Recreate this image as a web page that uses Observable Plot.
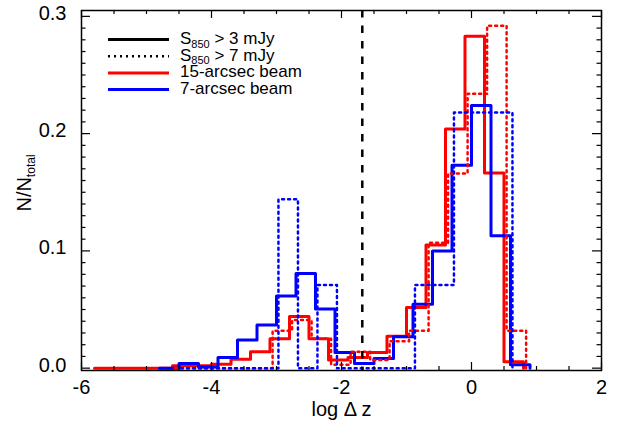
<!DOCTYPE html>
<html><head><meta charset="utf-8">
<script src="https://cdn.jsdelivr.net/npm/d3@7"></script>
<script src="https://cdn.jsdelivr.net/npm/@observablehq/plot@0.6"></script>
<style>
html,body{margin:0;padding:0;background:#fff;}
#chart{position:relative;width:617px;height:430px;font-family:"Liberation Sans",Arial,sans-serif;}
#chart svg{position:absolute;left:0;top:0;}
</style></head><body><div id="chart"></div>
<script>
// ---- data: bin edges and fractions N/Ntotal ----
const redSolidEdges = [-5.8,-5.5,-5.2,-4.9,-4.6,-4.3,-4.0,-3.7,-3.4,-3.1,-2.8,-2.5,-2.2,-1.9,-1.6,-1.3,-1.0,-0.7,-0.4,-0.1,0.2,0.5,0.8];
const redSolidValues = [0,0,0,0,0.002,0.002,0.0034,0.0077,0.014,0.025,0.044,0.025,0.007,0.009,0.0134,0.0273,0.0517,0.105,0.204,0.283,0.1665,0.0054];

const blueSolidEdges = [-4.8,-4.5,-4.2,-3.9,-3.6,-3.3,-3.0,-2.7,-2.4,-2.1,-1.8,-1.5,-1.2,-0.9,-0.6,-0.3,0.0,0.3,0.6,0.9];
const blueSolidValues = [0,0.004,0.001,0.009,0.024,0.0367,0.0615,0.0807,0.0505,0.0134,0.004,0.0083,0.0267,0.0546,0.100,0.173,0.224,0.113,0.003];

const redDottedEdges = [-4.56,-4.26,-3.96,-3.66,-3.36,-3.06,-2.76,-2.46,-2.16,-1.86,-1.56,-1.26,-0.96,-0.66,-0.36,-0.06,0.24,0.54,0.84];
const redDottedValues = [0,0,0,0,0,0.032,0.041,0.025,0.003,0.014,0.007,0.023,0.032,0.107,0.166,0.234,0.292,0.032];

const blueDottedEdges = [-4.47,-4.17,-3.87,-3.57,-3.27,-2.97,-2.67,-2.37,-2.07,-1.77,-1.47,-1.17,-0.87,-0.57,-0.27,0.03,0.33,0.63];
const blueDottedValues = [0,0,0,0,0,0.144,0,0.071,0,0,0,0,0.071,0.071,0.218,0.218,0.218];

const cutLine = [-1.68];

const xMajor = [-6,-4,-2,0,2];
const xMinor = [-5.5,-5,-4.5,-3.5,-3,-2.5,-1.5,-1,-0.5,0.5,1,1.5];
const yMajor = [0,0.1,0.2,0.3];
const yMinor = d3.range(1,30).filter(i => i % 10 !== 0).map(i => i / 100);
const xTitle = "log Δ z";

const legendText = [["S","850"," > 3 mJy"],["S","850"," > 7 mJy"],["15-arcsec beam"],["7-arcsec beam"]];
const legendColor = ["black","black","red","blue"];
const legendDash = [null,"2,4",null,null];

// ---- build step outlines ----
function steps(edges, values){
  const pts = values.map((v,i) => ({x: edges[i], y: v}));
  pts.push({x: edges[edges.length-1], y: 0});
  return pts;
}

const W = 617, H = 430, mL = 81, mR = 16, mT = 10, mB = 60;
const fw = W - mL - mR, fh = H - mT - mB;
const font = '"Liberation Sans",Arial,sans-serif';
const dots = "2,4";

const plot = Plot.plot({
  width: W, height: H,
  marginLeft: mL, marginRight: mR, marginTop: mT, marginBottom: mB,
  style: {fontFamily: font, background: "white", color: "black"},
  x: {domain: [-6, 2], axis: null},
  y: {domain: [-0.002, 0.305], axis: null},
  marks: [
    Plot.line(steps(redSolidEdges, redSolidValues), {x:"x", y:"y", curve:"step-after", stroke:"#ff0000", strokeWidth:3}),
    Plot.line(steps(blueSolidEdges, blueSolidValues), {x:"x", y:"y", curve:"step-after", stroke:"#0000ff", strokeWidth:3}),
    Plot.line(steps(redDottedEdges, redDottedValues), {x:"x", y:"y", curve:"step-after", stroke:"#ff0000", strokeWidth:2.5, strokeDasharray:dots}),
    Plot.line(steps(blueDottedEdges, blueDottedValues), {x:"x", y:"y", curve:"step-after", stroke:"#0000ff", strokeWidth:2.5, strokeDasharray:dots}),
    Plot.ruleX(cutLine, {x: d => d, stroke:"black", strokeWidth:2.5, strokeDasharray:"7.5,8"}),
    // inward ticks, bottom & top
    Plot.tickX(xMajor, {x: d => d, insetTop: fh - 8, stroke:"black", strokeWidth:1.2}),
    Plot.tickX(xMajor, {x: d => d, insetBottom: fh - 8, stroke:"black", strokeWidth:1.2}),
    Plot.tickX(xMinor, {x: d => d, insetTop: fh - 4, stroke:"black", strokeWidth:1.2}),
    Plot.tickX(xMinor, {x: d => d, insetBottom: fh - 4, stroke:"black", strokeWidth:1.2}),
    // inward ticks, left & right
    Plot.tickY(yMajor, {y: d => d, insetRight: fw - 9, stroke:"black", strokeWidth:1.2}),
    Plot.tickY(yMajor, {y: d => d, insetLeft: fw - 9, stroke:"black", strokeWidth:1.2}),
    Plot.tickY(yMinor, {y: d => d, insetRight: fw - 4.5, stroke:"black", strokeWidth:1.2}),
    Plot.tickY(yMinor, {y: d => d, insetLeft: fw - 4.5, stroke:"black", strokeWidth:1.2}),
    Plot.frame({stroke:"black", strokeWidth:1.5}),
    // tick labels
    Plot.text(xMajor, {x: d => d, frameAnchor:"bottom", dy:17, lineAnchor:"middle", fontSize:20, fill:"black", text: d => String(d)}),
    Plot.text(yMajor, {y: d => d, frameAnchor:"left", dx:-15, dy:-3, textAnchor:"end", lineAnchor:"middle", fontSize:20, fill:"black", text: d => d.toFixed(1)}),
    Plot.text([xTitle], {frameAnchor:"bottom", dy:39, lineAnchor:"middle", fontSize:20, fill:"black", text: d => d})
  ]
});
const chart = document.getElementById("chart");
chart.appendChild(plot);

// ---- overlay: legend and y-axis title with subscripts ----
const ov = d3.select(chart).append("svg").attr("width", W).attr("height", H)
  .style("font-family", font).style("pointer-events","none");
const ly0 = 39.5, lstep = 16.7;
legendText.forEach((parts, i) => {
  const y = ly0 + i * lstep;
  ov.append("line").attr("x1",108).attr("x2",169).attr("y1",y).attr("y2",y)
    .attr("stroke", legendColor[i]).attr("stroke-width", legendDash[i] ? 2.5 : 3)
    .attr("stroke-dasharray", legendDash[i]);
  const t = ov.append("text").attr("x",180).attr("y",y+4.5).attr("font-size",17).attr("fill","black");
  if (parts.length === 1) t.text(parts[0]);
  else {
    t.append("tspan").text(parts[0]);
    t.append("tspan").attr("font-size",11).attr("dy",3.5).text(parts[1]);
    t.append("tspan").attr("dy",-3.5).text(parts[2]);
  }
});
const yt = ov.append("text").attr("transform","translate(31,183) rotate(-90)")
  .attr("text-anchor","middle").attr("font-size",20).attr("fill","black");
yt.append("tspan").text("N/N");
yt.append("tspan").attr("font-size",12).attr("dy",4).text("total");
</script>
</body></html>
